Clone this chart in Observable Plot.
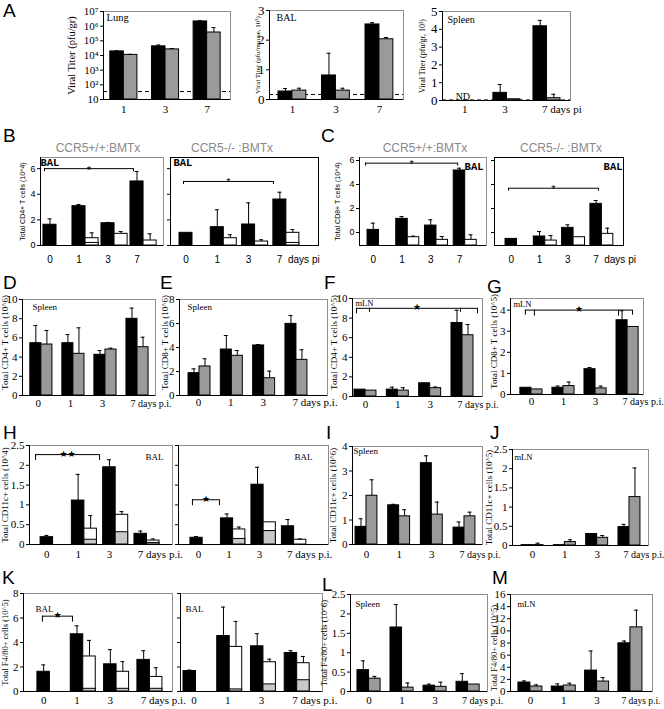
<!DOCTYPE html>
<html><head><meta charset="utf-8">
<script src="https://cdn.jsdelivr.net/npm/d3@7"></script>
<script src="https://cdn.jsdelivr.net/npm/@observablehq/plot@0.6"></script>
<style>
body{margin:0;background:#fff;}
#fig{position:relative;width:664px;height:709px;overflow:hidden;background:#fff;}
#fig svg{position:absolute;overflow:visible;}
.lt{position:absolute;font-family:"Liberation Sans",Arial,sans-serif;font-size:19px;line-height:1;}
.ttl{position:absolute;font-family:"Liberation Sans",Arial,sans-serif;font-size:12px;line-height:1;color:#8a8a8a;transform:translate(-50%,-50%);white-space:pre;}
</style></head><body><div id="fig"></div>
<script>
// ---------------- DATA ----------------
const daysA = [1, 3, 7];
const days = [0, 1, 3, 7];
const lungTicks = [10, 1e2, 1e3, 1e4, 1e5, 1e6, 1e7];
const lungTickLabels = ["10", "10²", "10³", "10⁴", "10⁵", "10⁶", "10⁷"];
// A: viral titers
const lungBlack = [1.9e4, 4.2e4, 2.1e6], lungBlackTop = [2.1e4, 5.2e4, 2.4e6];
const lungGray = [1.1e4, 2.6e4, 3.7e5], lungGrayTop = [1.2e4, 3.0e4, 8.0e5];
const lungLimit = 35;
const balABlack = [0.27, 0.81, 2.53], balABlackTop = [0.37, 1.56, 2.59];
const balAGray = [0.3, 0.3, 2.03], balAGrayTop = [0.38, 0.38, 2.09];
const balALimit = 0.17;
const splABlack = [null, 0.43, 4.17], splABlackTop = [null, 0.9, 4.5];
const splAGray = [null, 0.07, 0.13], splAGrayTop = [null, null, 0.35];
const splALimit = 0.03;
// B: CD4 BAL
const b1Black = [1.62, 3.07, 1.74, 5.0], b1BlackTop = [2.08, 3.2, 1.8, 5.78];
const b1White = [null, 0.57, 0.91, 0.39], b1WhiteTop = [null, 0.99, 1.09, 0.91], b1WhiteSeg = [null, 0.2, null, null];
const b2Black = [0.99, 1.43, 1.64, 3.59], b2BlackTop = [null, 2.79, 3.33, 4.16];
const b2White = [null, 0.57, 0.31, 0.99], b2WhiteTop = [null, 0.84, 0.45, 1.25], b2WhiteSeg = [null, null, null, 0.2];
// C: CD8 BAL (in axis units, bars rise from the axis floor)
const cFloor = -1.08;
const c1Black = [0.22, 1.14, 0.58, 5.17], c1BlackTop = [0.78, 1.33, 1.06, 5.36];
const c1White = [null, -0.39, -0.61, -0.61], c1WhiteTop = [null, -0.3, -0.33, -0.19];
const c2Black = [-0.53, -0.33, 0.39, 2.39], c2BlackTop = [null, 0.08, 0.64, 2.67];
const c2White = [null, -0.67, -0.39, -0.11], c2WhiteTop = [null, -0.25, null, 0.36];
// D-G
const dBlack = [5.45, 5.45, 4.24, 7.99], dBlackTop = [7.29, 6.35, 4.69, 9.1];
const dGray = [5.31, 4.34, 4.79, 5.03], dGrayTop = [6.77, 7.05, 4.93, 6.07];
const eBlack = [1.86, 3.83, 4.17, 5.97], eBlackTop = [2.22, 5.0, 4.25, 6.67];
const eGray = [2.42, 3.31, 1.44, 2.97], eGrayTop = [3.06, 3.75, 2.03, 3.81];
const fBlack = [0.7, 0.7, 1.35, 7.5], fBlackTop = [null, 0.95, null, 8.8];
const fGray = [0.6, 0.6, 0.85, 6.25], fGrayTop = [null, 0.9, 0.97, 7.35];
const gBlack = [0.32, 0.32, 1.2, 3.52], gBlackTop = [null, 0.4, 1.28, 3.97];
const gGray = [0.24, 0.4, 0.29, 3.2], gGrayTop = [null, 0.59, 0.4, null];
// H-J: CD11c
const h1Black = [0.185, 1.11, 1.95, 0.27], h1BlackTop = [0.23, 1.77, 2.14, 0.34];
const h1White = [null, 0.4, 0.75, 0.1], h1WhiteTop = [null, 0.73, 0.83, 0.14], h1WhiteSeg = [null, 0.12, 0.31, 0.04];
const h2Black = [0.17, 0.66, 1.51, 0.46], h2BlackTop = [0.2, 0.77, 1.95, 0.63];
const h2White = [null, 0.38, 0.56, 0.12], h2WhiteTop = [null, 0.44, null, 0.14], h2WhiteSeg = [null, 0.14, 0.34, null];
const iBlack = [0.72, 1.6, 3.32, 0.69], iBlackTop = [1.05, 1.64, 3.62, 0.92];
const iGray = [1.99, 1.15, 1.22, 1.15], iGrayTop = [2.64, 1.42, 1.73, 1.32];
const jBlack = [0.01, 0.01, 0.3, 0.48], jBlackTop = [null, null, null, 0.55];
const jGray = [0.01, 0.09, 0.2, 1.26], jGrayTop = [0.06, 0.15, 0.26, 2.02];
// K-M: F4/80
const k1Black = [1.61, 4.67, 2.22, 2.58], k1BlackTop = [2.17, 5.36, 3.42, 3.33];
const k1White = [null, 2.86, 1.61, 1.19], k1WhiteTop = [null, 4.17, 2.44, 1.94], k1WhiteSeg = [null, 0.22, 0.22, 0.22];
const k2Black = [1.67, 4.53, 3.69, 3.14], k2BlackTop = [1.75, 6.89, 4.72, 3.33];
const k2White = [null, 3.64, 2.39, 2.31], k2WhiteTop = [null, 5.72, 2.64, 2.86], k2WhiteSeg = [null, 0.17, 0.58, 0.92];
const lBlack = [0.55, 1.65, 0.15, 0.25], lBlackTop = [0.79, 2.24, 0.19, 0.46];
const lGray = [0.33, 0.1, 0.12, 0.18], lGrayTop = [0.39, 0.22, 0.24, null];
const mBlack = [1.48, 0.82, 3.45, 7.95], mBlackTop = [1.75, 1.26, 6.68, 8.33];
const mGray = [0.82, 0.99, 1.64, 10.58], mGrayTop = [1.1, 1.37, 2.3, 13.42];

// ---------------- STYLE ----------------
const SERIF = '"Liberation Serif","Times New Roman",serif';
const SANS = '"Liberation Sans",Arial,sans-serif';
const MONO = '"Liberation Mono","Courier New",monospace';
const STAR = '"DejaVu Sans",sans-serif';
const GRAY = "#9a9a9a", LGRAY = "#c8c8c8", FRAME = "#8f8f8f";
const blank = () => "";
const num = d => String(d);

const fig = document.getElementById("fig");

function rows(ds, v, top, seg) {
  return ds.map((d, i) => ({day: d, v: v[i], top: top ? top[i] : null, seg: seg ? seg[i] : null}))
           .filter(r => r.v != null);
}

function panel(c) {
  const [fl, ft, fr, fb] = c.box;
  const ml = 50, mr = 60, mt = 12, mb = 26;
  const W = fr - fl + ml + mr, H = fb - ft + mt + mb;
  const xs = d3.scaleBand().domain(c.days).range([ml, W - mr])
    .paddingInner(c.pi).paddingOuter(c.po).align(c.align);
  const bw = xs.bandwidth();
  const base = c.base ?? c.domain[0];
  const font = c.font || SERIF;
  const upp = (c.domain[1] - c.domain[0]) / (fb - ft); // units per pixel (linear panels)
  const m = [];
  m.push(Plot.frame({stroke: c.frameColor || FRAME}));
  if (c.limit != null) m.push(Plot.ruleY([c.limit], {stroke: "#000", strokeDasharray: "4,3"}));
  c.series.forEach((s, k) => {
    const left = k === 0;
    const R = rows(c.days, s.v, s.top, s.seg);
    m.push(Plot.barY(R, {x: "day", y1: () => base, y2: "v", fill: s.fill, stroke: "#000", strokeWidth: 1,
      insetLeft: left ? 0 : bw / 2, insetRight: left ? bw / 2 : 0}));
    if (s.seg) m.push(Plot.barY(R.filter(r => r.seg != null), {x: "day", y1: () => base, y2: "seg", fill: s.segFill, stroke: "#000", strokeWidth: 1,
      insetLeft: left ? 0 : bw / 2, insetRight: left ? bw / 2 : 0}));
    const E = R.filter(r => r.top != null);
    m.push(Plot.ruleX(E, {x: "day", y1: "v", y2: "top", dx: left ? -bw / 4 : bw / 4, stroke: "#000"}));
    m.push(Plot.tickY(E, {x: "day", y: "top", stroke: "#000",
      insetLeft: left ? bw / 4 - 2 : 3 * bw / 4 - 2, insetRight: left ? 3 * bw / 4 - 2 : bw / 4 - 2}));
  });
  m.push(Plot.ruleY([base], {stroke: "#000"}));
  m.push(Plot.frame({anchor: "left", stroke: "#000"}));
  m.push(Plot.axisY(c.ticks, {tickFormat: c.tickFormat || num, tickSize: 3, tickPadding: 2,
    fontSize: c.tickSize || 11, fontFamily: font}));
  // x labels
  const shift = (c.labelAt === "black" ? -bw / 4 : 0) + (c.labelDx || 0);
  const L = c.labels, n = c.days.length;
  m.push(Plot.text(c.days.slice(0, n - 1), {x: d => d, text: (d, i) => L[i], frameAnchor: "bottom",
    dy: c.labelDy || 13, dx: shift, fontSize: c.labelSize || 11, fontFamily: font}));
  m.push(Plot.text(c.days.slice(n - 1), {x: d => d, text: () => L[n - 1], frameAnchor: "bottom",
    dy: c.labelDy || 13, dx: (c.lastStart ? shift - 3 : shift) + (c.lastDx || 0), textAnchor: c.lastStart ? "start" : "middle",
    fontSize: c.lastSize || c.labelSize || 11, fontFamily: font}));
  // y title
  if (c.ytitle) m.push(Plot.text([c.ytitle], {text: d => d, frameAnchor: "left", textAnchor: "middle", rotate: -90,
    dx: c.titleX - fl, dy: c.titleDy || 0, fontSize: c.titleFont || 9, fontFamily: font}));
  // inner label
  if (c.inner) {
    const q = c.inner, right = q.anchor === "top-right";
    m.push(Plot.text([q.text], {text: d => d, frameAnchor: right ? "top-right" : "top-left",
      textAnchor: right ? "end" : "start", lineAnchor: "top", dx: q.dx, dy: q.dy,
      fontSize: q.size || 9, fontFamily: q.font || font, fontWeight: q.weight || "normal"}));
  }
  if (c.nd) m.push(Plot.text(["ND"], {text: d => d, x: () => c.days[0], y: () => c.limit, lineAnchor: "bottom",
    dx: -4, dy: 0, fontSize: 10, fontFamily: font}));
  // significance brackets
  (c.sig || []).forEach(s => {
    const x0 = xs(s.from) + s.a, x1 = xs(s.to) + s.b;
    const drop = s.dropPx * upp;
    m.push(Plot.ruleY([s], {y: "y", x1: "from", x2: "to", insetLeft: s.a, insetRight: bw - s.b, stroke: "#000"}));
    m.push(Plot.ruleX([s], {x: "from", y1: "y", y2: d => d.y - drop, dx: s.a - bw / 2, stroke: "#000"}));
    m.push(Plot.ruleX([s], {x: "to", y1: "y", y2: d => d.y - drop, dx: s.b - bw / 2, stroke: "#000"}));
    (s.inner || []).forEach(t => m.push(Plot.ruleX([s], {x: () => t.day, y1: "y", y2: d => d.y - t.dropPx * upp,
      dx: t.off - bw / 2, stroke: "#000"})));
    m.push(Plot.text([s], {x: "from", y: "y", text: () => s.mark, lineAnchor: "bottom",
      dx: (x0 + x1) / 2 - (xs(s.from) + bw / 2), dy: s.dy ?? 2,
      fontSize: s.size || 9, fontFamily: s.font || STAR}));
  });
  const svg = Plot.plot({
    width: W, height: H, marginLeft: ml, marginRight: mr, marginTop: mt, marginBottom: mb,
    x: {type: "band", domain: c.days, paddingInner: c.pi, paddingOuter: c.po, align: c.align, round: false, axis: null},
    y: {type: c.log ? "log" : "linear", domain: c.domain, axis: null},
    style: {background: "transparent", overflow: "visible", fontFamily: font, fontSize: "11px", color: "#000"},
    marks: m
  });
  svg.style.position = "absolute";
  svg.style.left = (fl - ml) + "px";
  svg.style.top = (ft - mt) + "px";
  svg.style.maxWidth = "none";
  fig.appendChild(svg);
}

const serLabels = ["0", "1", "3", "7 days p.i."];
const serTicks10 = [0, 2, 4, 6, 8, 10], serTicks8 = [0, 2, 4, 6, 8], halfTicks = [0, 0.5, 1, 1.5, 2, 2.5];
const BG = (v, t, v2, t2) => [{v, top: t, fill: "#000"}, {v: v2, top: t2, fill: GRAY}];
const BW = (v, t, v2, t2, seg, segFill) => [{v, top: t, fill: "#000"}, {v: v2, top: t2, fill: "#fff", seg, segFill}];

const panels = [
  // A
  {box: [103, 11, 230, 99], days: daysA, pi: .35, po: .2, align: .41, log: true, domain: [10, 1e7],
   ticks: lungTicks, tickFormat: d => lungTickLabels[lungTicks.indexOf(d)], tickSize: 11,
   ytitle: "Viral Titer (pfu/gr)", titleX: 71, titleFont: 10.5,
   inner: {text: "Lung", dx: 3, dy: 2, size: 10.5}, labels: ["1", "3", "7"], labelDy: 13, limit: lungLimit,
   series: BG(lungBlack, lungBlackTop, lungGray, lungGrayTop)},
  {box: [269, 10, 403, 99], days: daysA, pi: .36, po: .22, align: .47, domain: [0, 3], ticks: [0, 1, 2, 3], tickSize: 13,
   ytitle: "Viral Titer (pfu/mouse, 10³)", titleX: 257, titleFont: 7,
   inner: {text: "BAL", dx: 7, dy: 3, size: 10}, labels: ["1", "3", "7"], labelDy: 13, limit: balALimit,
   series: BG(balABlack, balABlackTop, balAGray, balAGrayTop)},
  {box: [442, 11, 570, 100], days: daysA, pi: .325, po: .26, align: .52, domain: [0, 5], ticks: [0, 1, 2, 3, 4, 5], tickSize: 13,
   ytitle: "Viral Titer (pfu/gr, 10³)", titleX: 422, titleFont: 8,
   inner: {text: "Spleen", dx: 5, dy: 4, size: 10}, labels: ["1", "3", "7 days pi"], lastStart: true, labelDx: -2, labelDy: 12,
   limit: splALimit, nd: true, series: BG(splABlack, splABlackTop, splAGray, splAGrayTop)},
  // B
  {box: [40, 157, 163, 245], days, pi: .1, po: .17, align: .3, domain: [0, 6.87], ticks: [0, 2, 4, 6], font: SANS, tickSize: 9,
   ytitle: "Total CD4+ T cells (10^4)", titleX: 22, titleFont: 7,
   inner: {text: "BAL", dx: 0, dy: 1, size: 10.5, font: MONO, weight: "bold"},
   labels: ["0", "1", "3", "7"], labelAt: "black", labelDy: 17, labelSize: 10,
   series: BW(b1Black, b1BlackTop, b1White, b1WhiteTop, b1WhiteSeg, "#fff"),
   sig: [{from: 0, to: 7, y: 6.0, a: 1, b: 3, dropPx: 3, mark: "*", dy: 5, size: 11, font: SANS}]},
  {box: [170, 157, 318, 245], days, pi: .17, po: .45, align: .32, domain: [0, 6.87], ticks: [0, 2, 4, 6], tickFormat: blank,
   font: SANS, frameColor: "#000", inner: {text: "BAL", dx: 3, dy: 1, size: 10.5, font: MONO, weight: "bold"},
   labels: ["0", "1", "3", "7  days pi"], lastStart: true, labelAt: "black", labelDy: 17, labelSize: 10,
   series: BW(b2Black, b2BlackTop, b2White, b2WhiteTop, b2WhiteSeg, "#fff"),
   sig: [{from: 0, to: 7, y: 5.0, a: 4, b: 0, dropPx: 3, mark: "*", dy: 5, size: 11, font: SANS}]},
  // C
  {box: [359, 157, 486, 245], days, pi: .2, po: .31, align: .45, domain: [cFloor, 6.25], base: cFloor, ticks: [0, 2, 4, 6],
   font: SANS, tickSize: 9, ytitle: "Total CD8+ T cells (10^4)", titleX: 337, titleFont: 7,
   inner: {text: "BAL", anchor: "top-right", dx: -3, dy: 5, size: 10.5, font: MONO, weight: "bold"},
   labels: ["0", "1", "3", "7"], labelAt: "black", labelDy: 17, labelSize: 10,
   series: BW(c1Black, c1BlackTop, c1White, c1WhiteTop),
   sig: [{from: 0, to: 7, y: 5.78, a: -2, b: 4, dropPx: 3, mark: "*", dy: 5, size: 11, font: SANS}]},
  {box: [494, 157, 623, 245], days, pi: .19, po: .375, align: .52, domain: [cFloor, 6.25], base: cFloor, ticks: [0, 2, 4, 6],
   tickFormat: blank, font: SANS, frameColor: "#000",
   inner: {text: "BAL", anchor: "top-right", dx: -1, dy: 5, size: 10.5, font: MONO, weight: "bold"},
   labels: ["0", "1", "3", "7  days pi"], lastStart: true, labelAt: "black", labelDy: 17, labelSize: 10,
   series: BW(c2Black, c2BlackTop, c2White, c2WhiteTop),
   sig: [{from: 0, to: 7, y: 3.69, a: 3, b: 8, dropPx: 3, mark: "*", dy: 5, size: 11, font: SANS}]},
  // D-G
  {box: [22, 299, 155, 395], days, pi: .31, po: .23, align: .53, domain: [0, 10], ticks: serTicks10,
   ytitle: "Total CD4+ T cells (10^6)", titleX: 5, titleDy: -5, inner: {text: "Spleen", dx: 10, dy: 4},
   labels: serLabels, lastStart: true, labelDx: -3, labelDy: 11, lastSize: 10, lastDx: -1, series: BG(dBlack, dBlackTop, dGray, dGrayTop)},
  {box: [179, 299, 327, 395], days, pi: .32, po: .45, align: .31, domain: [0, 8], ticks: serTicks8,
   ytitle: "Total CD8+ T cells (10^6)", titleX: 165, titleDy: -5, inner: {text: "Spleen", dx: 8, dy: 4},
   labels: serLabels, lastStart: true, labelDx: -1, labelDy: 10, series: BG(eBlack, eBlackTop, eGray, eGrayTop)},
  {box: [352, 298, 482, 396], days, pi: .32, po: .17, align: .18, domain: [0, 10], ticks: serTicks10,
   ytitle: "Total CD4+ T cells (10^5)", titleX: 334, titleDy: -5, inner: {text: "mLN", dx: 3, dy: 1, size: 8.5},
   labels: serLabels, lastStart: true, labelDy: 11, lastSize: 10, lastDx: -2, series: BG(fBlack, fBlackTop, fGray, fGrayTop),
   sig: [{from: 0, to: 7, y: 9.0, a: 2, b: 26, dropPx: 5.5, mark: "★", dy: 2,
          inner: [{day: 0, off: 15, dropPx: 4}, {day: 7, off: 9, dropPx: 4}]}]},
  {box: [510, 298, 643, 394], days, pi: .31, po: .23, align: .67, domain: [0, 4.55], ticks: [0, 1, 2, 3, 4],
   ytitle: "Total CD8+ T cells (10^5)", titleX: 494, titleDy: -5, inner: {text: "mLN", dx: 3, dy: 2, size: 8.5},
   labels: serLabels, lastStart: true, labelDy: 10, lastSize: 10, lastDx: -2, series: BG(gBlack, gBlackTop, gGray, gGrayTop),
   sig: [{from: 0, to: 7, y: 4.0, a: 5, b: 16, dropPx: 5, mark: "★", dy: 2,
          inner: [{day: 0, off: 14, dropPx: 6}, {day: 7, off: 2, dropPx: 6}]}]},
  // H-J
  {box: [29, 445, 172, 544], days, pi: .2, po: .385, align: .46, domain: [0, 2.5], ticks: halfTicks,
   ytitle: "Total CD11c+ cells (10^4)", titleX: 5, inner: {text: "BAL", anchor: "top-right", dx: -9, dy: 8},
   labels: serLabels, lastStart: true, labelAt: "black", labelDy: 13,
   series: BW(h1Black, h1BlackTop, h1White, h1WhiteTop, h1WhiteSeg, LGRAY),
   sig: [{from: 0, to: 3, y: 2.27, a: -5, b: -3.6, dropPx: 6, mark: "★★", dy: 2}]},
  {box: [178, 445, 328, 544], days, pi: .2, po: .56, align: .35, domain: [0, 2.5], ticks: halfTicks, tickFormat: blank,
   inner: {text: "BAL", anchor: "top-right", dx: -16, dy: 8},
   labels: serLabels, lastStart: true, labelAt: "black", labelDx: 2, labelDy: 13,
   series: BW(h2Black, h2BlackTop, h2White, h2WhiteTop, h2WhiteSeg, LGRAY),
   sig: [{from: 0, to: 1, y: 1.13, a: 2, b: -1.5, dropPx: 6, mark: "★", dy: 2}]},
  {box: [352, 446, 482, 544], days, pi: .33, po: .155, align: .3, domain: [0, 4], ticks: [0, 1, 2, 3, 4],
   ytitle: "Total CD11c+ cells (10^6)", titleX: 333, inner: {text: "Spleen", dx: 1, dy: 1},
   labels: serLabels, lastStart: true, labelDy: 13, lastSize: 10, lastDx: -2, series: BG(iBlack, iBlackTop, iGray, iGrayTop)},
  {box: [512, 449, 648, 545], days, pi: .32, po: .265, align: .53, domain: [0, 2.5], ticks: halfTicks,
   ytitle: "Total CD11c+ cells (10^5)", titleX: 489, inner: {text: "mLN", dx: 2, dy: 4, size: 8.5},
   labels: serLabels, lastStart: true, labelDy: 12, lastSize: 10, lastDx: -3, series: BG(jBlack, jBlackTop, jGray, jGrayTop)},
  // K-M
  {box: [23, 593, 172, 691], days, pi: .25, po: .36, align: .58, domain: [0, 8], ticks: serTicks8,
   ytitle: "Total F4/80+ cells (10^5)", titleX: 5, titleFont: 8.5, inner: {text: "BAL", dx: 12, dy: 12},
   labels: serLabels, lastStart: true, labelAt: "black", labelDy: 12,
   series: BW(k1Black, k1BlackTop, k1White, k1WhiteTop, k1WhiteSeg, LGRAY),
   sig: [{from: 0, to: 1, y: 6.15, a: 5, b: 1.7, dropPx: 6, mark: "★", dy: 2}]},
  {box: [180, 593, 322, 691], days, pi: .26, po: .235, align: .19, domain: [0, 8], ticks: serTicks8, tickFormat: blank,
   inner: {text: "BAL", dx: 5, dy: 12}, labels: serLabels, lastStart: true, labelDx: -2, labelDy: 12,
   series: BW(k2Black, k2BlackTop, k2White, k2WhiteTop, k2WhiteSeg, LGRAY)},
  {box: [350, 594, 487, 691], days, pi: .3, po: .225, align: .47, domain: [0, 2.5], ticks: halfTicks,
   ytitle: "Total F4/80+ cells (10^6)", titleX: 324, titleFont: 8.5, inner: {text: "Spleen", dx: 5, dy: 6},
   labels: serLabels, lastStart: true, labelDy: 12, lastSize: 10, lastDx: -3, series: BG(lBlack, lBlackTop, lGray, lGrayTop)},
  {box: [510, 594, 652, 691], days, pi: .28, po: .27, align: .44, domain: [0, 16], ticks: [0, 2, 4, 6, 8, 10, 12, 14, 16],
   ytitle: "Total F4/80+ cells (10^5)", titleX: 494, titleFont: 8.5, titleDy: 5, inner: {text: "mLN", dx: 7, dy: 6, size: 8.5},
   labels: serLabels, lastStart: true, labelDy: 12, lastSize: 9.5, lastDx: -6, series: BG(mBlack, mBlackTop, mGray, mGrayTop)}
];

panels.forEach(panel);

const letters = [["A", 3, 1], ["B", 3, 126], ["C", 321, 126], ["D", 3, 273], ["E", 160, 273], ["F", 324, 273],
  ["G", 487, 277], ["H", 3, 423], ["I", 326, 423], ["J", 490, 423], ["K", 2, 568], ["L", 322, 575], ["M", 492, 568]];
letters.forEach(([t, x, y]) => {
  const d = document.createElement("div"); d.className = "lt"; d.textContent = t;
  d.style.left = x + "px"; d.style.top = y + "px"; fig.appendChild(d);
});
const titles = [["CCR5+/+:BMTx", 98, 148], ["CCR5-/- :BMTx", 232, 148], ["CCR5+/+:BMTx", 425, 148], ["CCR5-/- :BMTx", 561, 148]];
titles.forEach(([t, x, y]) => {
  const d = document.createElement("div"); d.className = "ttl"; d.textContent = t;
  d.style.left = x + "px"; d.style.top = y + "px"; fig.appendChild(d);
});
</script></body></html>
